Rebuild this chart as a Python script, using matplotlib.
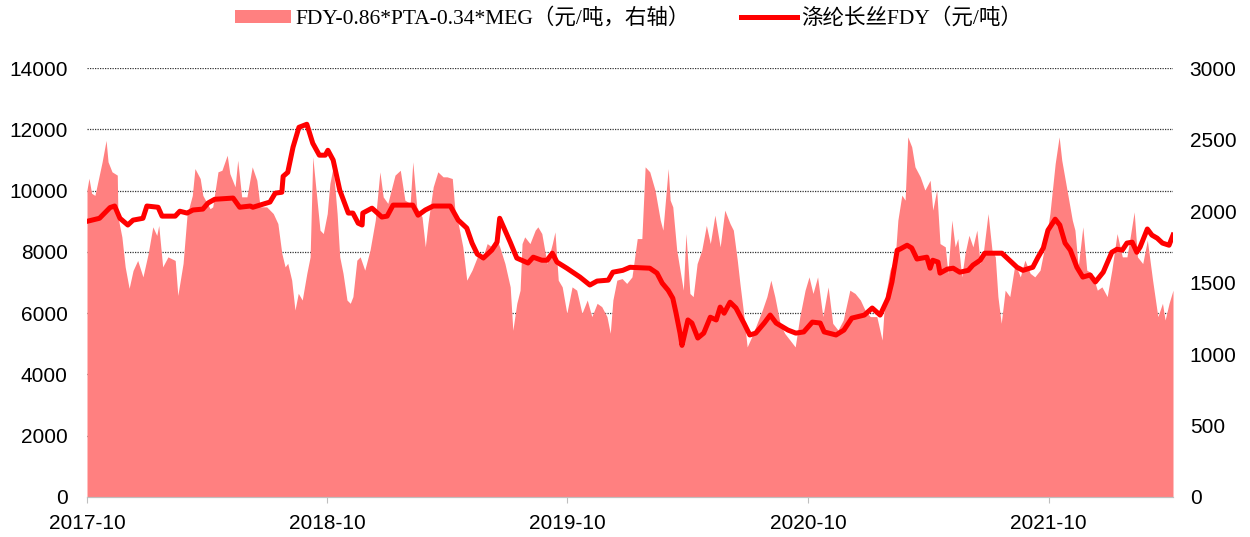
import matplotlib
matplotlib.use('Agg')
import matplotlib.pyplot as plt
import pandas as pd

# FDY-0.86*PTA-0.34*MEG 价差（元/吨，右轴）
spread_dates = [
    '2017-10-01', '2017-10-04', '2017-10-08', '2017-10-13', '2017-10-18', '2017-10-24', '2017-10-30',
    '2017-11-02', '2017-11-08', '2017-11-16', '2017-11-17', '2017-11-23', '2017-11-28', '2017-12-04',
    '2017-12-10', '2017-12-17', '2017-12-25', '2018-01-02', '2018-01-09', '2018-01-15', '2018-01-18',
    '2018-01-24', '2018-02-01', '2018-02-12', '2018-02-16', '2018-02-24', '2018-03-02', '2018-03-10',
    '2018-03-14', '2018-03-22', '2018-03-26', '2018-04-06', '2018-04-10', '2018-04-18', '2018-04-24',
    '2018-05-02', '2018-05-06', '2018-05-14', '2018-05-18', '2018-05-24', '2018-06-01', '2018-06-09',
    '2018-06-16', '2018-06-21', '2018-07-01', '2018-07-11', '2018-07-18', '2018-07-24', '2018-07-29',
    '2018-08-02', '2018-08-08', '2018-08-13', '2018-08-18', '2018-08-24', '2018-08-31', '2018-09-05',
    '2018-09-09', '2018-09-15', '2018-09-20', '2018-09-25', '2018-10-01', '2018-10-05', '2018-10-10',
    '2018-10-16', '2018-10-20', '2018-10-25', '2018-10-31', '2018-11-05', '2018-11-09', '2018-11-15',
    '2018-11-20', '2018-11-27', '2018-12-05', '2018-12-13', '2018-12-20', '2018-12-25', '2019-01-01',
    '2019-01-12', '2019-01-20', '2019-01-27', '2019-02-04', '2019-02-08', '2019-02-14', '2019-02-22',
    '2019-02-27', '2019-03-03', '2019-03-11', '2019-03-18', '2019-03-26', '2019-04-01', '2019-04-09',
    '2019-04-13', '2019-04-18', '2019-04-25', '2019-05-01', '2019-05-09', '2019-05-17', '2019-05-24',
    '2019-06-01', '2019-06-08', '2019-06-16', '2019-06-20', '2019-06-28', '2019-07-06', '2019-07-10',
    '2019-07-16', '2019-07-21', '2019-07-24', '2019-07-28', '2019-08-05', '2019-08-13', '2019-08-17',
    '2019-08-23', '2019-08-31', '2019-09-08', '2019-09-12', '2019-09-17', '2019-09-23', '2019-09-30',
    '2019-10-08', '2019-10-15', '2019-10-23', '2019-10-31', '2019-11-07', '2019-11-15', '2019-11-22',
    '2019-11-30', '2019-12-05', '2019-12-09', '2019-12-15', '2019-12-23', '2019-12-30', '2020-01-07',
    '2020-01-15', '2020-01-22', '2020-01-27', '2020-02-03', '2020-02-11', '2020-02-19', '2020-02-23',
    '2020-03-02', '2020-03-05', '2020-03-09', '2020-03-15', '2020-03-20', '2020-03-25', '2020-03-29',
    '2020-04-04', '2020-04-09', '2020-04-15', '2020-04-22', '2020-04-29', '2020-05-05', '2020-05-12',
    '2020-05-20', '2020-05-27', '2020-06-04', '2020-06-09', '2020-06-15', '2020-06-19', '2020-06-24',
    '2020-06-30', '2020-07-07', '2020-07-15', '2020-07-23', '2020-07-30', '2020-08-05', '2020-08-11',
    '2020-08-19', '2020-08-26', '2020-09-03', '2020-09-11', '2020-09-18', '2020-09-26', '2020-10-02',
    '2020-10-08', '2020-10-15', '2020-10-23', '2020-10-31', '2020-11-07', '2020-11-15', '2020-11-23',
    '2020-12-03', '2020-12-11', '2020-12-19', '2020-12-26', '2021-01-03', '2021-01-13', '2021-01-21',
    '2021-01-25', '2021-02-02', '2021-02-10', '2021-02-14', '2021-02-20', '2021-02-25', '2021-03-01',
    '2021-03-07', '2021-03-12', '2021-03-20', '2021-03-27', '2021-04-04', '2021-04-08', '2021-04-14',
    '2021-04-19', '2021-04-27', '2021-05-01', '2021-05-07', '2021-05-12', '2021-05-16', '2021-05-22',
    '2021-05-27', '2021-06-02', '2021-06-08', '2021-06-14', '2021-06-19', '2021-06-23', '2021-07-01',
    '2021-07-07', '2021-07-12', '2021-07-16', '2021-07-21', '2021-07-27', '2021-08-03', '2021-08-11',
    '2021-08-19', '2021-08-26', '2021-09-03', '2021-09-10', '2021-09-18', '2021-09-26', '2021-10-03',
    '2021-10-11', '2021-10-17', '2021-10-21', '2021-10-29', '2021-11-06', '2021-11-10', '2021-11-15',
    '2021-11-22', '2021-11-28', '2021-12-06', '2021-12-14', '2021-12-21', '2021-12-29', '2022-01-05',
    '2022-01-13', '2022-01-21', '2022-01-28', '2022-02-02', '2022-02-08', '2022-02-13', '2022-02-21',
    '2022-02-28', '2022-03-08', '2022-03-16', '2022-03-23', '2022-03-27', '2022-04-02', '2022-04-08',
]
spread_values = [
    2150, 2230, 2125, 2110, 2216, 2345, 2495,
    2345, 2275, 2252, 1960, 1820, 1610, 1460,
    1585, 1655, 1540, 1705, 1890, 1830, 1900,
    1610, 1680, 1655, 1410, 1635, 1972, 2110,
    2298, 2228, 2110, 2017, 2030, 2275, 2286,
    2391, 2263, 2170, 2356, 2100, 2100, 2310,
    2216, 2030, 2030, 1983, 1913, 1705, 1610,
    1635, 1517, 1308, 1425, 1378, 1565, 1680,
    2380, 2100, 1867, 1843, 1983, 2193, 2310,
    1983, 1680, 1565, 1378, 1355, 1402, 1657,
    1680, 1587, 1727, 1937, 2275, 2100, 2054,
    2252, 2286, 2077, 2054, 2345, 2030, 1960,
    1750, 1913, 2170, 2275, 2240, 2240, 2228,
    2007, 1913, 1750, 1517, 1587, 1680, 1657,
    1773, 1750, 1797, 1750, 1633, 1470, 1166,
    1355, 1447, 1773, 1820, 1773, 1867, 1890,
    1843, 1633, 1773, 1855, 1517, 1470, 1285,
    1470, 1447, 1285, 1378, 1262, 1355, 1332,
    1262, 1145, 1378, 1517, 1528, 1494, 1540,
    1808, 1808, 2310, 2275, 2147, 1937, 1867,
    2298, 2077, 2030, 1727, 1587, 1447, 1843,
    1424, 1402, 1633, 1727, 1900, 1773, 1972,
    1750, 2007, 1913, 1867, 1657, 1494, 1308,
    1050, 1122, 1215, 1308, 1402, 1517, 1402,
    1215, 1145, 1098, 1050, 1262, 1447, 1540,
    1424, 1540, 1262, 1470, 1215, 1168, 1238,
    1447, 1424, 1378, 1308, 1262, 1262, 1098,
    1378, 1587, 1680, 1937, 2112, 2077, 2520,
    2450, 2310, 2240, 2147, 2216, 2007, 2147,
    1773, 1750, 1565, 1937, 1750, 1808, 1540,
    1703, 1831, 1750, 1867, 1633, 1680, 1983,
    1727, 1680, 1402, 1215, 1447, 1402, 1633,
    1540, 1657, 1565, 1540, 1587, 1773, 1983,
    2333, 2520, 2356, 2147, 1937, 1867, 1610,
    1890, 1587, 1565, 1447, 1470, 1402, 1587,
    1843, 1680, 1680, 1820, 1995, 1680, 1633,
    1797, 1517, 1262, 1355, 1238, 1355, 1447,
]

# 涤纶长丝FDY 价格（元/吨，左轴）
fdy_dates = [
    '2017-10-01', '2017-10-20', '2017-11-05', '2017-11-12', '2017-11-20', '2017-12-02', '2017-12-10',
    '2017-12-25', '2017-12-31', '2018-01-17', '2018-01-23', '2018-02-12', '2018-02-19', '2018-03-02',
    '2018-03-11', '2018-03-26', '2018-04-03', '2018-04-13', '2018-05-11', '2018-05-21', '2018-06-06',
    '2018-06-10', '2018-06-25', '2018-07-06', '2018-07-14', '2018-07-24', '2018-07-26', '2018-08-02',
    '2018-08-10', '2018-08-19', '2018-08-31', '2018-09-09', '2018-09-19', '2018-09-28', '2018-10-02',
    '2018-10-10', '2018-10-20', '2018-11-02', '2018-11-09', '2018-11-17', '2018-11-23', '2018-11-24',
    '2018-12-08', '2018-12-23', '2018-12-31', '2019-01-09', '2019-02-08', '2019-02-16', '2019-02-27',
    '2019-03-11', '2019-04-06', '2019-04-18', '2019-05-01', '2019-05-09', '2019-05-17', '2019-05-26',
    '2019-06-08', '2019-06-16', '2019-06-20', '2019-06-28', '2019-07-06', '2019-07-16', '2019-08-02',
    '2019-08-10', '2019-08-23', '2019-08-31', '2019-09-08', '2019-09-15', '2019-09-30', '2019-10-20',
    '2019-11-04', '2019-11-15', '2019-12-02', '2019-12-09', '2019-12-24', '2020-01-04', '2020-02-03',
    '2020-02-14', '2020-02-22', '2020-03-02', '2020-03-09', '2020-03-14', '2020-03-20', '2020-03-23',
    '2020-04-01', '2020-04-07', '2020-04-16', '2020-04-25', '2020-05-05', '2020-05-14', '2020-05-20',
    '2020-05-26', '2020-06-04', '2020-06-13', '2020-06-25', '2020-07-04', '2020-07-13', '2020-07-26',
    '2020-08-04', '2020-08-13', '2020-08-31', '2020-09-12', '2020-09-24', '2020-10-07', '2020-10-19',
    '2020-10-25', '2020-11-12', '2020-11-24', '2020-12-06', '2020-12-25', '2021-01-06', '2021-01-18',
    '2021-01-30', '2021-02-05', '2021-02-13', '2021-02-17', '2021-02-28', '2021-03-07', '2021-03-15',
    '2021-03-30', '2021-04-04', '2021-04-08', '2021-04-16', '2021-04-19', '2021-04-30', '2021-05-09',
    '2021-05-19', '2021-06-01', '2021-06-08', '2021-06-19', '2021-06-26', '2021-07-22', '2021-07-30',
    '2021-08-14', '2021-08-23', '2021-09-07', '2021-09-15', '2021-09-23', '2021-09-30', '2021-10-11',
    '2021-10-18', '2021-10-26', '2021-11-03', '2021-11-13', '2021-11-22', '2021-12-03', '2021-12-11',
    '2021-12-23', '2022-01-05', '2022-01-13', '2022-01-21', '2022-01-28', '2022-02-05', '2022-02-12',
    '2022-02-17', '2022-02-28', '2022-03-07', '2022-03-15', '2022-03-23', '2022-04-02', '2022-04-08',
]
fdy_values = [
    9000, 9100, 9450, 9500, 9100, 8880, 9040,
    9100, 9500, 9460, 9170, 9170, 9330, 9270,
    9370, 9400, 9600, 9720, 9760, 9460, 9500,
    9460, 9560, 9630, 9920, 9950, 10470, 10600,
    11420, 12070, 12170, 11550, 11160, 11160, 11320,
    11000, 10020, 9270, 9270, 8940, 8880, 9270,
    9430, 9140, 9170, 9530, 9530, 9200, 9370,
    9500, 9500, 9040, 8780, 8290, 7930, 7800,
    8060, 8320, 9100, 8710, 8320, 7800, 7640,
    7830, 7730, 7730, 7960, 7670, 7470, 7180,
    6920, 7050, 7080, 7340, 7400, 7500, 7470,
    7310, 6980, 6750, 6490, 6000, 5350, 4950,
    5780, 5680, 5190, 5350, 5870, 5780, 6200,
    6000, 6360, 6170, 5680, 5290, 5350, 5680,
    5940, 5680, 5450, 5350, 5390, 5710, 5680,
    5390, 5290, 5450, 5840, 5940, 6170, 5940,
    6490, 7020, 8060, 8090, 8220, 8130, 7770,
    7830, 7470, 7730, 7670, 7310, 7440, 7470,
    7340, 7400, 7570, 7730, 7960, 7960, 7800,
    7500, 7400, 7500, 7830, 8130, 8710, 9070,
    8880, 8290, 8060, 7500, 7180, 7250, 7020,
    7340, 7990, 8090, 8060, 8290, 8320, 7990,
    8160, 8750, 8550, 8450, 8290, 8220, 8550,
]

left_ticks = list(range(0, 14001, 2000))
right_ticks = list(range(0, 3001, 500))
tick_dates = ['2017-10-01', '2018-10-01', '2019-10-01', '2020-10-01', '2021-10-01']
tick_labels = ['2017-10', '2018-10', '2019-10', '2020-10', '2021-10']

spread_x = pd.to_datetime(spread_dates)
fdy_x = pd.to_datetime(fdy_dates)

latin = 'Liberation Sans'
legend_font = ['Liberation Serif', 'Noto Sans CJK SC']

fig = plt.figure(figsize=(12.5, 5.37), dpi=100)
ax_r = fig.add_axes([0.0696, 0.0745, 0.8688, 0.7985])
ax_l = ax_r.twinx()
ax_l.yaxis.tick_left()
ax_r.yaxis.tick_right()
ax_l.set_zorder(ax_r.get_zorder() + 1)
ax_l.patch.set_visible(False)

area = ax_r.fill_between(spread_x, spread_values, 0, color='#FF8080', lw=0,
                         label='FDY-0.86*PTA-0.34*MEG（元/吨，右轴）')
line, = ax_l.plot(fdy_x, fdy_values, color='#FF0000', lw=3.6, solid_joinstyle='round',
                  label='涤纶长丝FDY（元/吨）')

xmin, xmax = pd.Timestamp('2017-10-01'), pd.Timestamp('2022-04-08')
for a in (ax_l, ax_r):
    a.set_xlim(xmin, xmax)
    for s in ('top', 'left', 'right'):
        a.spines[s].set_visible(False)
    a.spines['bottom'].set_color('#bfbfbf')

ax_l.set_ylim(0, 14000)
ax_l.set_yticks(left_ticks)
ax_r.set_ylim(0, 3000)
ax_r.set_yticks(right_ticks)

# 网格线对应左轴刻度，画在面积图下方
ax_r.yaxis.remove_overlapping_locs = False
ax_r.set_yticks([t * 3000 / 14000 for t in left_ticks[1:]], minor=True)
ax_r.set_axisbelow(True)
ax_r.yaxis.grid(True, which='minor', linestyle=(0, (1, 1)), color='#333333', lw=0.9)
ax_r.yaxis.grid(False, which='major')
ax_r.tick_params(axis='y', which='minor', length=0)

ax_r.set_xticks(pd.to_datetime(tick_dates))
ax_r.set_xticklabels(tick_labels, fontfamily=latin, fontsize=15)
ax_l.set_xticks(pd.to_datetime(tick_dates))
ax_l.tick_params(axis='x', labelbottom=False, length=0)
ax_r.tick_params(axis='x', direction='out', length=4, color='#bfbfbf', pad=8)

ax_l.tick_params(axis='y', length=0, pad=14, labelsize=15)
ax_r.tick_params(axis='y', which='major', length=0, pad=12, labelsize=15)
for lab in ax_l.get_yticklabels() + ax_r.get_yticklabels():
    lab.set_fontfamily(latin)

fig.legend([area, line], [area.get_label(), line.get_label()], loc='center',
           bbox_to_anchor=(0.503, 0.966), ncol=2, frameon=False,
           prop={'family': legend_font, 'size': 15.5},
           handlelength=2.6, handleheight=0.55, handletextpad=0.2, columnspacing=2.4)

fig.savefig('out.png', dpi=100)
